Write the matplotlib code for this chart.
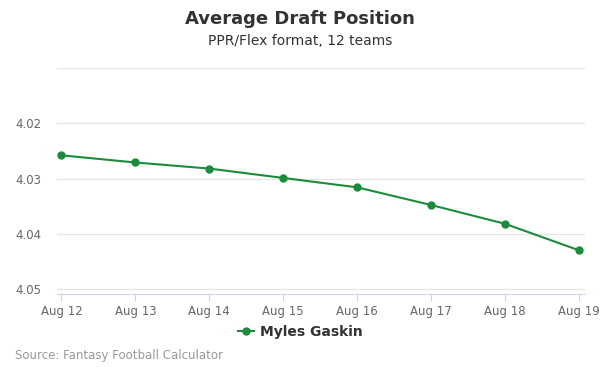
import matplotlib
matplotlib.use("Agg")
import matplotlib.pyplot as plt
from matplotlib.lines import Line2D

dates = ["Aug 12", "Aug 13", "Aug 14", "Aug 15", "Aug 16", "Aug 17", "Aug 18", "Aug 19"]
adp = [4.0258, 4.0271, 4.0282, 4.0299, 4.0316, 4.0348, 4.0382, 4.0430]
yticks = [4.01, 4.02, 4.03, 4.04, 4.05]
ytick_labels = ["", "4.02", "4.03", "4.04", "4.05"]
series_name = "Myles Gaskin"
color = "#1a8c3a"

plt.rcParams["font.family"] = ["DejaVu Sans"]
fig = plt.figure(figsize=(6, 3.75), dpi=100)
ax = fig.add_axes([57/600, 1-294/375, (585-57)/600, (294-68)/375])

x = list(range(len(dates)))
ax.plot(x, adp, color=color, lw=1.5, marker="o", ms=5, zorder=3)
ax.set_xlim(-0.06, 7.08)
ax.set_ylim(4.0509, 4.01)
ax.set_yticks(yticks)
ax.set_yticklabels(ytick_labels)
ax.set_xticks(x)
ax.set_xticklabels(dates)
ax.grid(axis="y", color="#e6e6e6", lw=1)
ax.set_axisbelow(True)
for s in ["top", "right", "left"]:
    ax.spines[s].set_visible(False)
ax.spines["bottom"].set_color("#ccd6eb")
ax.tick_params(axis="y", length=0, labelsize=8.5, labelcolor="#666666", pad=11)
ax.tick_params(axis="x", length=5, color="#ccd6eb", labelsize=8.5, labelcolor="#666666", pad=3)

fig.text(0.5, 1-19/375, "Average Draft Position", ha="center", va="center",
         fontsize=13, fontweight="bold", color="#333333")
fig.text(0.5, 1-41/375, "PPR/Flex format, 12 teams", ha="center", va="center",
         fontsize=10, color="#333333")

handle = Line2D([], [], color=color, lw=1.5, marker="o", ms=5)
fig.legend([handle], [series_name], loc="center", bbox_to_anchor=(0.5, 1-332/375),
           frameon=False, handlelength=1.2, handletextpad=0.4,
           prop={"weight": "bold", "size": 10}, labelcolor="#333333")
fig.text(15/600, 1-356/375, "Source: Fantasy Football Calculator", ha="left", va="center",
         fontsize=8.5, color="#999999")

fig.savefig("out.png", dpi=100)
